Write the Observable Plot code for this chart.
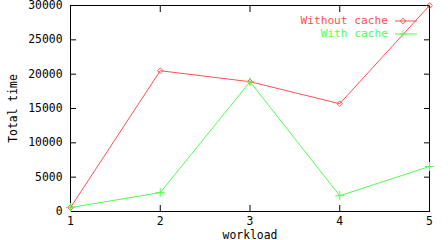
<!DOCTYPE html>
<html>
<head>
<meta charset="utf-8">
<script src="https://cdn.jsdelivr.net/npm/d3@7"></script>
<script src="https://cdn.jsdelivr.net/npm/@observablehq/plot@0.6"></script>
<style>
  html, body { margin: 0; padding: 0; background: #fff; }
  #wrap { position: relative; width: 448px; height: 240px; }
  .leg { position: absolute; font-family: "DejaVu Sans Mono", monospace; font-size: 11.2px; line-height: 10px; height: 10px; white-space: pre; }
</style>
</head>
<body>
<div id="wrap"></div>
<script>
const workload = [1, 2, 3, 4, 5];
const withoutCache = [580, 20500, 18900, 15700, 30000];
const withCache = [580, 2750, 18900, 2300, 6550];
const yTicks = [0, 5000, 10000, 15000, 20000, 25000, 30000];
const xTicks = [1, 2, 3, 4, 5];
const seriesNames = ["Without cache", "With cache"];
const seriesColors = ["#ff5050", "#50ff50"];

const rowsA = workload.map((w, i) => ({w, t: withoutCache[i]}));
const rowsB = workload.map((w, i) => ({w, t: withCache[i]}));
const blank = () => "";

const chart = Plot.plot({
  width: 448,
  height: 240,
  marginLeft: 70,
  marginRight: 19,
  marginTop: 5,
  marginBottom: 29,
  x: {domain: [1, 5]},
  y: {domain: [0, 30000]},
  style: {fontFamily: "DejaVu Sans Mono, monospace", fontSize: "11.4px", background: "white", color: "black"},
  marks: [
    Plot.axisY({ticks: yTicks, tickSize: 0, tickPadding: 8, tickFormat: d3.format("d"),
      label: "Total time", labelAnchor: "center", labelOffset: 62, labelArrow: "none"}),
    Plot.axisY({ticks: yTicks, anchor: "left", tickSize: -6, tickFormat: blank, label: null}),
    Plot.axisY({ticks: yTicks, anchor: "right", tickSize: -6, tickFormat: blank, label: null}),
    Plot.axisX({ticks: xTicks, tickSize: 0, tickPadding: 5, tickFormat: d3.format("d"),
      label: "workload", labelAnchor: "center", labelOffset: 27, labelArrow: "none"}),
    Plot.axisX({ticks: xTicks, anchor: "bottom", tickSize: -6, tickFormat: blank, label: null}),
    Plot.axisX({ticks: xTicks, anchor: "top", tickSize: -6, tickFormat: blank, label: null}),
    Plot.frame({stroke: "black", strokeWidth: 1}),
    Plot.line(rowsA, {x: "w", y: "t", stroke: seriesColors[0], strokeWidth: 1}),
    Plot.dot(rowsA, {x: "w", y: "t", stroke: seriesColors[0], symbol: "diamond2", r: 2.5, strokeWidth: 1}),
    Plot.line(rowsB, {x: "w", y: "t", stroke: seriesColors[1], strokeWidth: 1}),
    Plot.dot(rowsB, {x: "w", y: "t", stroke: seriesColors[1], symbol: "plus", r: 3, strokeWidth: 1})
  ]
});
const wrap = document.getElementById("wrap");
wrap.appendChild(chart);

// Legend (inside plot, top right)
const legendCenters = [21, 34];
seriesNames.forEach((name, i) => {
  const t = document.createElement("div");
  t.className = "leg";
  t.textContent = name;
  t.style.color = seriesColors[i];
  t.style.right = (448 - 388) + "px";
  t.style.top = (legendCenters[i] - 5) + "px";
  wrap.appendChild(t);
  const ns = "http://www.w3.org/2000/svg";
  const s = document.createElementNS(ns, "svg");
  s.setAttribute("width", 26); s.setAttribute("height", 10);
  s.style.position = "absolute"; s.style.left = "393px"; s.style.top = (legendCenters[i] - 5) + "px";
  const l = document.createElementNS(ns, "line");
  l.setAttribute("x1", 2); l.setAttribute("x2", 24); l.setAttribute("y1", 5); l.setAttribute("y2", 5);
  l.setAttribute("stroke", seriesColors[i]);
  s.appendChild(l);
  const p = document.createElementNS(ns, "path");
  p.setAttribute("d", d3.symbol(i === 0 ? d3.symbolDiamond2 : d3.symbolPlus, 20)());
  p.setAttribute("transform", "translate(10,5)");
  p.setAttribute("fill", "none");
  p.setAttribute("stroke", seriesColors[i]);
  s.appendChild(p);
  wrap.appendChild(s);
});
</script>
</body>
</html>
